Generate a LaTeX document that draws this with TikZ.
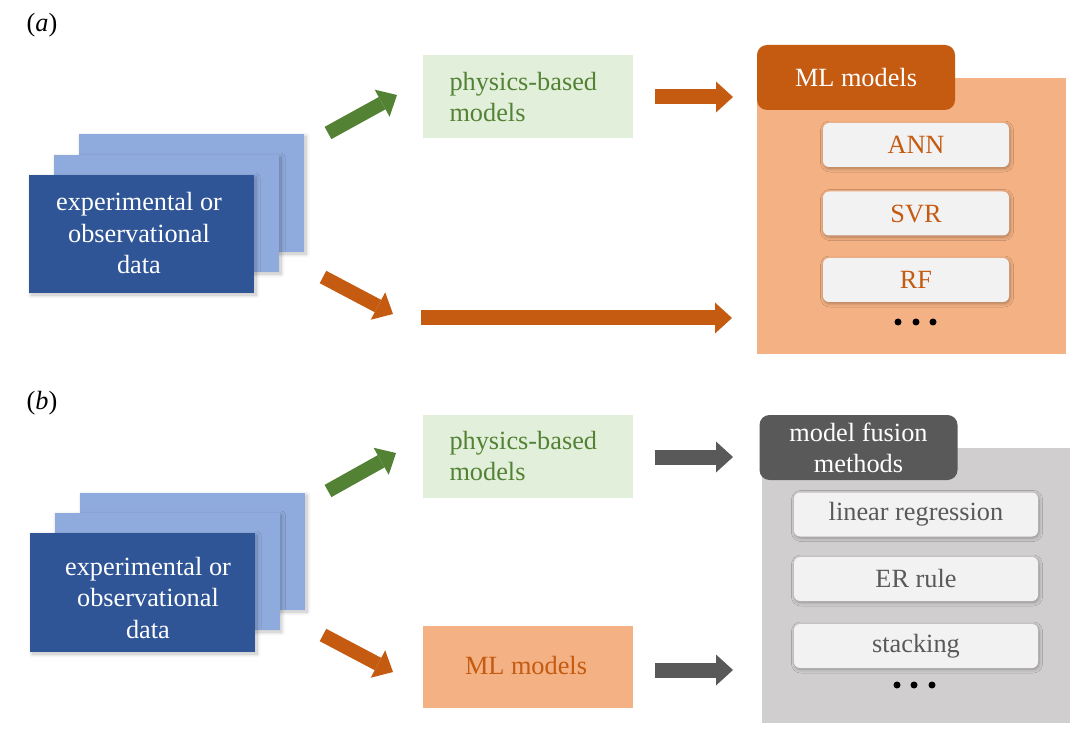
\documentclass[tikz,border=0pt]{standalone}
\usepackage{fontspec}
\setmainfont{Liberation Serif}
\usetikzlibrary{arrows.meta,shadows,shadows.blur}
\definecolor{dblue}{HTML}{2F5597}
\definecolor{lblue}{HTML}{8FAADC}
\definecolor{garrow}{HTML}{548235}
\definecolor{gtext}{HTML}{548235}
\definecolor{pgreen}{HTML}{E2EFDA}
\definecolor{orng}{HTML}{C55A11}
\definecolor{peach}{HTML}{F4B183}
\definecolor{wbox}{HTML}{F2F2F2}
\definecolor{dgray}{HTML}{595959}
\definecolor{lgray}{HTML}{D0CECE}
\tikzset{
  card/.style={draw=none, minimum width=225pt, inner sep=0pt, blur shadow={shadow xshift=2pt, shadow yshift=-2pt, shadow opacity=25, shadow blur radius=4pt, shadow blur steps=10}},
  datatext/.style={text=white, align=center, font=\fontsize{26.3}{31.5}\selectfont},
  physbox/.style={fill=pgreen, minimum width=210pt, minimum height=83pt, inner sep=0pt},
  bodytext/.style={font=\fontsize{26.3}{31}\selectfont},
  tabbox/.style={rounded corners=10pt, minimum width=198pt, minimum height=65pt, inner sep=0pt, text=white, align=center, font=\fontsize{26.3}{31}\selectfont},
  itembox/.style={fill=wbox, rounded corners=6pt, minimum height=44pt, inner sep=0pt, font=\fontsize{26.3}{30}\selectfont, blur shadow={shadow xshift=1pt, shadow yshift=-1.5pt, shadow opacity=30, shadow blur radius=3.5pt, shadow blur steps=8}},
  blockarrow/.style={line width=#1, -{Triangle[width=31pt,length=17pt,line width=0pt]}},
  blockarrow/.default=14pt,
  dotnode/.style={circle, fill=black, inner sep=0pt, minimum size=7pt},
  panellabel/.style={font=\fontsize{26.3}{30}\selectfont}
}
\begin{document}
\begin{tikzpicture}[x=1pt,y=-1pt]
\useasboundingbox (0,0) rectangle (1080,738);

% ---------------- panel (a) ----------------
\node[panellabel] (la) at (42,25) {(\textit{a})};
\node[card, fill=lblue, minimum height=118pt] (a3) at (191.5,193) {};
\node[card, fill=lblue, minimum height=117pt] (a2) at (166.5,213.5) {};
\node[card, fill=dblue, minimum height=118pt] (a1) at (141.5,234) {};
\node[datatext] (a1t) at (139,233.5) {experimental or\\observational\\data};

\node[physbox] (pa) at (528,96.5) {};
\node[bodytext, text=gtext, align=left, anchor=west] (pat) at (446,97) {physics-based\\models};

\node[fill=peach, minimum width=309pt, minimum height=276pt, inner sep=0pt] (mlbg) at (911.5,216) {};
\node[tabbox, fill=orng] (mltab) at (856,77.5) {ML models};
\node[itembox, minimum width=186pt, text=orng] (ann) at (916,145) {ANN};
\node[itembox, minimum width=186pt, text=orng] (svr) at (916,213.5) {SVR};
\node[itembox, minimum width=186pt, text=orng] (rf) at (916,280) {RF};
\node[dotnode] (ad1) at (898,322) {};
\node[dotnode] (ad2) at (916,322) {};
\node[dotnode] (ad3) at (933,322) {};

\coordinate (ga0) at (328,133);
\coordinate (ga1) at (397,95);
\coordinate (oa0) at (323,277);
\coordinate (oa1) at (393,314);
\coordinate (ta0) at (655,97);
\coordinate (ta1) at (733,97);
\coordinate (la0) at (421,318);
\coordinate (la1) at (732,318);
\draw[blockarrow, draw=garrow, fill=garrow] (ga0) -- (ga1);
\draw[blockarrow, draw=orng, fill=orng] (oa0) -- (oa1);
\draw[blockarrow=15pt, draw=orng, fill=orng] (ta0) -- (ta1);
\draw[blockarrow=15pt, draw=orng, fill=orng] (la0) -- (la1);

% ---------------- panel (b) ----------------
\node[panellabel] (lb) at (42,403) {(\textit{b})};
\node[card, fill=lblue, minimum height=117pt] (b3) at (192.5,551.5) {};
\node[card, fill=lblue, minimum height=117pt] (b2) at (167,571.5) {};
\node[card, fill=dblue, minimum height=119pt] (b1) at (142.5,592.5) {};
\node[datatext] (b1t) at (148,598) {experimental or\\observational\\data};

\node[physbox] (pb) at (528,456) {};
\node[bodytext, text=gtext, align=left, anchor=west] (pbt) at (446,456.5) {physics-based\\models};

\node[fill=peach, minimum width=210pt, minimum height=82pt, inner sep=0pt] (mlb) at (528,667) {};
\node[bodytext, text=orng] (mlbt) at (526,666) {ML models};

\node[fill=lgray, minimum width=308pt, minimum height=275pt, inner sep=0pt] (fbg) at (916,585.5) {};
\node[tabbox, fill=dgray] (ftab) at (858.5,447.5) {model fusion\\methods};
\node[itembox, minimum width=244pt, text=dgray] (lin) at (916,514.5) {linear regression};
\node[itembox, minimum width=244pt, text=dgray] (er) at (916,579) {ER rule};
\node[itembox, minimum width=244pt, text=dgray] (stk) at (916,646) {stacking};
\node[dotnode] (bd1) at (897,685) {};
\node[dotnode] (bd2) at (914,685) {};
\node[dotnode] (bd3) at (932,685) {};

\coordinate (gb0) at (328,491);
\coordinate (gb1) at (396,453);
\coordinate (ob0) at (323,635);
\coordinate (ob1) at (393,672);
\coordinate (tb0) at (655,457);
\coordinate (tb1) at (733,457);
\coordinate (bb0) at (655,670);
\coordinate (bb1) at (733,670);
\draw[blockarrow, draw=garrow, fill=garrow] (gb0) -- (gb1);
\draw[blockarrow, draw=orng, fill=orng] (ob0) -- (ob1);
\draw[blockarrow=15pt, draw=dgray, fill=dgray] (tb0) -- (tb1);
\draw[blockarrow=15pt, draw=dgray, fill=dgray] (bb0) -- (bb1);
\end{tikzpicture}
\end{document}
